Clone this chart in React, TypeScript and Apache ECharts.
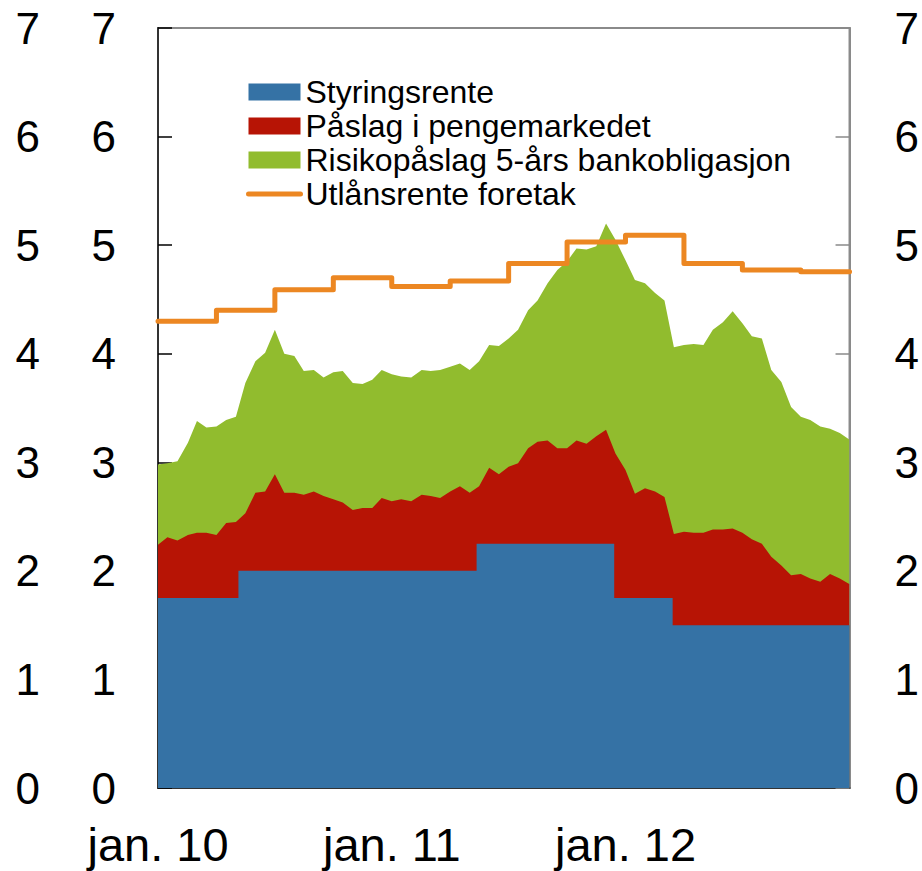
import React, { useEffect, useRef } from "react";
import * as echarts from "echarts";

// Half-monthly observation dates (x positions)
const sampleDates: string[] = [];
for (let y = 2010; y <= 2012; y++) {
  for (let m = 1; m <= 12; m++) {
    const mm = m < 10 ? "0" + m : "" + m;
    sampleDates.push(`${y}-${mm}-01`, `${y}-${mm}-16`);
  }
}

// Styringsrente: change dates and levels
const policyChangeDates = ["2010-01-01", "2010-05-05", "2011-05-12", "2011-12-14", "2012-03-14"];
const policyRate = [1.75, 2.0, 2.25, 1.75, 1.5];

// Påslag i pengemarkedet (percentage points, half-monthly)
const moneyMarketPremium = [
  0.49, 0.56, 0.53, 0.58, 0.60, 0.60, 0.58, 0.69, 0.70, 0.53, 0.72, 0.73,
  0.89, 0.72, 0.72, 0.70, 0.73, 0.69, 0.66, 0.63, 0.56, 0.58, 0.58, 0.67,
  0.64, 0.66, 0.64, 0.70, 0.69, 0.67, 0.73, 0.78, 0.72, 0.53, 0.70, 0.64,
  0.71, 0.74, 0.88, 0.94, 0.95, 0.88, 0.88, 0.95, 0.92, 0.99, 1.05, 1.33,
  1.18, 0.96, 1.01, 0.98, 0.93, 0.84, 0.86, 0.85, 0.85, 0.88, 0.88, 0.89,
  0.85, 0.79, 0.75, 0.63, 0.55, 0.46, 0.47, 0.43, 0.40, 0.47, 0.43, 0.38,
];

// Risikopåslag 5-års bankobligasjon (percentage points, half-monthly)
const riskPremium = [
  0.74, 0.68, 0.73, 0.85, 1.03, 0.97, 1.00, 0.95, 0.97, 1.20, 1.21, 1.28,
  1.33, 1.28, 1.26, 1.14, 1.12, 1.09, 1.17, 1.21, 1.17, 1.14, 1.18, 1.18,
  1.17, 1.13, 1.14, 1.15, 1.15, 1.18, 1.15, 1.13, 1.13, 1.15, 1.13, 1.18,
  1.18, 1.23, 1.27, 1.30, 1.45, 1.64, 1.72, 1.77, 1.79, 1.75, 1.90, 1.97,
  1.93, 1.97, 1.89, 1.83, 1.81, 1.72, 1.72, 1.74, 1.73, 1.84, 1.91, 2.00,
  1.93, 1.87, 1.89, 1.72, 1.69, 1.55, 1.45, 1.46, 1.43, 1.34, 1.34, 1.33,
];

// Utlånsrente foretak (quarterly)
const lendingQuarterStarts = [
  "2010-01-01", "2010-04-01", "2010-07-01", "2010-10-01",
  "2011-01-01", "2011-04-01", "2011-07-01", "2011-10-01",
  "2012-01-01", "2012-04-01", "2012-07-01", "2012-10-01",
];
const lendingRate = [4.30, 4.40, 4.59, 4.70, 4.62, 4.67, 4.83, 5.03, 5.09, 4.83, 4.77, 4.755];

const xTickLabels = ["jan. 10", "jan. 11", "jan. 12"];
const yTicks = [0, 1, 2, 3, 4, 5, 6, 7];

const X_END = 35.5;
const BLUE = "#3572A5";
const RED = "#B71405";
const GREEN = "#91BC2E";
const ORANGE = "#EC8722";
const FONT = "'Liberation Sans', Arial, sans-serif";

function toMonth(d: string): number {
  const [y, m, dd] = d.split("-").map(Number);
  const dim = new Date(y, m, 0).getDate();
  return (y - 2010) * 12 + (m - 1) + (dd - 1) / dim;
}

function policyAt(month: number): number {
  let v = policyRate[0];
  policyChangeDates.forEach((d, i) => {
    if (toMonth(d) <= month + 1e-9) v = policyRate[i];
  });
  return v;
}

export default function App() {
  const ref = useRef<HTMLDivElement>(null);
  useEffect(() => {
    if (!ref.current) return;
    const chart = echarts.init(ref.current, undefined, { renderer: "svg" });
    const xs = sampleDates.map(toMonth);
    const redTop = xs.map((x, i) => policyAt(x) + moneyMarketPremium[i]);
    const greenTop = redTop.map((v, i) => v + riskPremium[i]);
    const blueData = policyChangeDates.map((d, i) => [toMonth(d), policyRate[i]]);
    blueData.push([X_END, policyRate[policyRate.length - 1]]);
    const orangeData = lendingQuarterStarts.map((d, i) => [toMonth(d), lendingRate[i]]);
    orangeData.push([X_END, lendingRate[lendingRate.length - 1]]);

    const yBase = {
      type: "value",
      min: 0,
      max: 7,
      interval: 1,
      splitLine: { show: false },
    };

    chart.setOption({
      animation: false,
      grid: {
        left: 158,
        right: 69,
        top: 28,
        bottom: 83,
        show: true,
        borderColor: "#8a8a8a",
        borderWidth: 2,
        backgroundColor: "transparent",
      },
      legend: {
        orient: "vertical",
        left: 246,
        top: 76,
        padding: 0,
        itemWidth: 52,
        itemHeight: 17,
        itemGap: 2,
        selectedMode: false,
        textStyle: { fontSize: 32, color: "#000", fontFamily: FONT },
        data: [
          { name: "Styringsrente", icon: "rect" },
          { name: "Påslag i pengemarkedet", icon: "rect" },
          { name: "Risikopåslag 5-års bankobligasjon", icon: "rect" },
          {
            name: "Utlånsrente foretak",
            itemStyle: { opacity: 0 },
            lineStyle: { width: 5, color: ORANGE, cap: "round" },
          },
        ],
      },
      xAxis: {
        type: "value",
        min: 0,
        max: X_END,
        interval: 12,
        splitLine: { show: false },
        axisLine: { show: true, lineStyle: { color: "#333", width: 2 } },
        axisTick: { show: true, inside: true, length: 15, lineStyle: { color: "#000", width: 1 } },
        axisLabel: {
          fontSize: 47,
          color: "#000",
          fontFamily: FONT,
          margin: 33,
          showMaxLabel: false,
          formatter: (v: number) => xTickLabels[Math.round(v / 12)] ?? "",
        },
      },
      yAxis: [
        {
          ...yBase,
          position: "left",
          axisLine: { show: true, lineStyle: { color: "#333", width: 2 } },
          axisTick: { show: true, inside: true, length: 14, lineStyle: { color: "#000", width: 1.5 } },
          axisLabel: {
            fontSize: 44,
            color: "#000",
            fontFamily: FONT,
            margin: 42,
            formatter: (v: number) => (yTicks.includes(v) ? String(v) : ""),
          },
        },
        {
          ...yBase,
          position: "left",
          axisLine: { show: false },
          axisTick: { show: false },
          axisLabel: {
            fontSize: 44,
            color: "#000",
            fontFamily: FONT,
            margin: 118,
            formatter: (v: number) => (yTicks.includes(v) ? String(v) : ""),
          },
        },
        {
          ...yBase,
          position: "right",
          axisLine: { show: true, lineStyle: { color: "#8a8a8a", width: 2 } },
          axisTick: { show: true, inside: true, length: 14, lineStyle: { color: "#8a8a8a", width: 1.5 } },
          axisLabel: {
            fontSize: 44,
            color: "#000",
            fontFamily: FONT,
            margin: 45,
            formatter: (v: number) => (yTicks.includes(v) ? String(v) : ""),
          },
        },
      ],
      series: [
        {
          name: "Risikopåslag 5-års bankobligasjon",
          type: "line",
          data: xs.map((x, i) => [x, greenTop[i]]),
          symbol: "none",
          showSymbol: false,
          silent: true,
          lineStyle: { width: 0, color: GREEN },
          itemStyle: { color: GREEN },
          areaStyle: { color: GREEN, opacity: 1 },
          z: 1,
        },
        {
          name: "Påslag i pengemarkedet",
          type: "line",
          data: xs.map((x, i) => [x, redTop[i]]),
          symbol: "none",
          showSymbol: false,
          silent: true,
          lineStyle: { width: 0, color: RED },
          itemStyle: { color: RED },
          areaStyle: { color: RED, opacity: 1 },
          z: 2,
        },
        {
          name: "Styringsrente",
          type: "line",
          step: "end",
          data: blueData,
          symbol: "none",
          showSymbol: false,
          silent: true,
          lineStyle: { width: 0, color: BLUE },
          itemStyle: { color: BLUE },
          areaStyle: { color: BLUE, opacity: 1 },
          z: 3,
        },
        {
          name: "Utlånsrente foretak",
          type: "line",
          step: "end",
          data: orangeData,
          symbol: "none",
          showSymbol: false,
          silent: true,
          lineStyle: { width: 5, color: ORANGE, cap: "round", join: "round" },
          itemStyle: { color: ORANGE },
          z: 4,
        },
      ],
    });
    return () => chart.dispose();
  }, []);
  return (
    <div
      ref={ref}
      style={{ position: "fixed", left: 0, top: 0, width: 922, height: 871, background: "#fff" }}
    />
  );
}
